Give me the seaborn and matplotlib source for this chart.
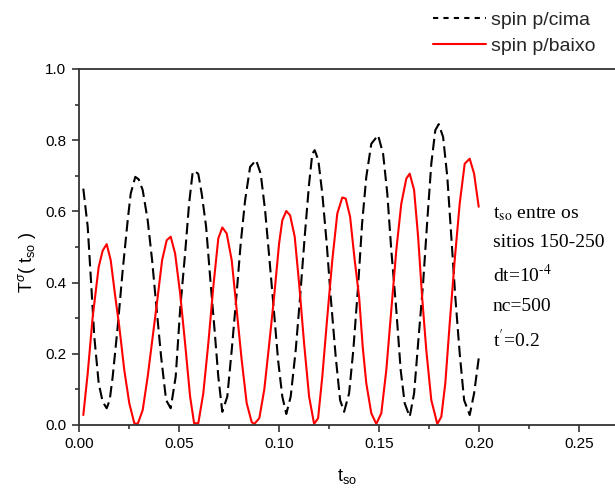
import numpy as np
import pandas as pd
import matplotlib
matplotlib.use("Agg")
import matplotlib.pyplot as plt
import seaborn as sns
from matplotlib.ticker import MultipleLocator, FormatStrFormatter
from matplotlib.lines import Line2D

# ---------------- data ----------------
t_up = [0.0023, 0.0045, 0.0062, 0.0078, 0.0100, 0.0120, 0.0140, 0.0155, 0.0170,
        0.0195, 0.0220, 0.0245, 0.0260, 0.0283, 0.0300, 0.0320, 0.0345, 0.0367,
        0.0387, 0.0412, 0.0437, 0.0460, 0.0485, 0.0507, 0.0532, 0.0552, 0.0570,
        0.0582, 0.0598, 0.0615, 0.0637, 0.0657, 0.0678, 0.0698, 0.0718, 0.0743,
        0.0765, 0.0787, 0.0810, 0.0832, 0.0857, 0.0887, 0.0910, 0.0932, 0.0953,
        0.0973, 0.0997, 0.1018, 0.1038, 0.1060, 0.1085, 0.1107, 0.1130, 0.1152,
        0.1168, 0.1180, 0.1198, 0.1218, 0.1240, 0.1260, 0.1285, 0.1307, 0.1327,
        0.1352, 0.1373, 0.1397, 0.1417, 0.1438, 0.1463, 0.1497, 0.1522, 0.1543,
        0.1563, 0.1588, 0.1610, 0.1630, 0.1655, 0.1677, 0.1697, 0.1722, 0.1743,
        0.1763, 0.1783, 0.1800, 0.1822, 0.1843, 0.1863, 0.1883, 0.1905, 0.1927,
        0.1955, 0.1977, 0.2000]
spin_up = [0.664, 0.557, 0.400, 0.248, 0.117, 0.065, 0.047, 0.070, 0.136,
           0.276, 0.435, 0.575, 0.650, 0.697, 0.690, 0.660, 0.575, 0.463,
           0.341, 0.192, 0.070, 0.047, 0.136, 0.323, 0.482, 0.622, 0.711,
           0.713, 0.705, 0.650, 0.557, 0.416, 0.276, 0.136, 0.037, 0.080,
           0.210, 0.351, 0.510, 0.631, 0.725, 0.744, 0.706, 0.603, 0.470,
           0.341, 0.182, 0.080, 0.031, 0.080, 0.210, 0.360, 0.529, 0.678,
           0.762, 0.772, 0.744, 0.650, 0.510, 0.360, 0.192, 0.070, 0.037,
           0.089, 0.210, 0.390, 0.566, 0.697, 0.790, 0.814, 0.762, 0.650,
           0.491, 0.323, 0.154, 0.061, 0.023, 0.089, 0.229, 0.398, 0.575,
           0.734, 0.828, 0.845, 0.809, 0.697, 0.529, 0.360, 0.201, 0.070,
           0.028, 0.089, 0.187]

t_down = [0.0023, 0.0045, 0.0070, 0.0100, 0.0120, 0.0140, 0.0160, 0.0183, 0.0203,
          0.0228, 0.0253, 0.0278, 0.0295, 0.0320, 0.0345, 0.0370, 0.0395, 0.0417,
          0.0440, 0.0460, 0.0482, 0.0507, 0.0532, 0.0557, 0.0577, 0.0598, 0.0623,
          0.0648, 0.0673, 0.0698, 0.0718, 0.0740, 0.0765, 0.0790, 0.0815, 0.0840,
          0.0865, 0.0878, 0.0903, 0.0928, 0.0953, 0.0977, 0.1002, 0.1018, 0.1038,
          0.1057, 0.1080, 0.1102, 0.1127, 0.1152, 0.1177, 0.1197, 0.1218, 0.1243,
          0.1268, 0.1293, 0.1318, 0.1335, 0.1357, 0.1380, 0.1402, 0.1420, 0.1438,
          0.1463, 0.1488, 0.1513, 0.1538, 0.1563, 0.1588, 0.1613, 0.1638, 0.1655,
          0.1677, 0.1697, 0.1717, 0.1738, 0.1763, 0.1793, 0.1813, 0.1833, 0.1855,
          0.1880, 0.1905, 0.1930, 0.1955, 0.1977, 0.2000]
spin_down = [0.028, 0.145, 0.304, 0.444, 0.490, 0.508, 0.463, 0.360, 0.276,
             0.154, 0.061, 0.005, 0.003, 0.042, 0.136, 0.248, 0.360, 0.463,
             0.519, 0.529, 0.482, 0.370, 0.229, 0.080, 0.005, 0.005, 0.089,
             0.229, 0.388, 0.524, 0.555, 0.538, 0.463, 0.323, 0.182, 0.061,
             0.008, 0.003, 0.019, 0.100, 0.230, 0.360, 0.510, 0.575, 0.601,
             0.589, 0.529, 0.398, 0.229, 0.080, 0.003, 0.019, 0.136, 0.304,
             0.463, 0.594, 0.639, 0.636, 0.585, 0.463, 0.360, 0.220, 0.117,
             0.033, 0.003, 0.033, 0.154, 0.323, 0.491, 0.622, 0.692, 0.706,
             0.660, 0.529, 0.360, 0.210, 0.070, 0.003, 0.023, 0.117, 0.285,
             0.463, 0.622, 0.734, 0.748, 0.706, 0.613]

series_labels = ["spin p/cima", "spin p/baixo"]
x_label = r"t$_{\mathrm{so}}$"
y_label = r"T$^{\sigma}$( t$_{\mathrm{so}}$ )"
annotation_lines = [r"t$_{\mathrm{so}}$ entre os", "sitios 150-250",
                    r"dt=10$^{\text{-}4}$", "nc=500", r"t$^{\prime}$=0.2"]

# ---------------- styling ----------------
sns.set_theme(style="ticks")
plt.rcParams["font.family"] = ["Liberation Sans", "DejaVu Sans"]
plt.rcParams.update({
    "mathtext.fontset": "custom",
    "mathtext.rm": "Liberation Sans",
    "mathtext.it": "Liberation Sans:italic",
    "mathtext.bf": "Liberation Sans:bold",
    "mathtext.sf": "Liberation Sans",
})

W, H = 615, 491
fig = plt.figure(figsize=(W / 100, H / 100), dpi=100)
ax_left, ax_right, ax_top, ax_bottom = 78.7, 615.0, 69.0, 425.0
ax = fig.add_axes([ax_left / W, 1 - ax_bottom / H,
                   (ax_right - ax_left) / W, (ax_bottom - ax_top) / H])

dash = (0, (5.5, 2.5))
df_up = pd.DataFrame({"t": t_up, "T": spin_up})
df_down = pd.DataFrame({"t": t_down, "T": spin_down})
sns.lineplot(data=df_up, x="t", y="T", ax=ax, color="black", linewidth=1.5,
             linestyle=dash, estimator=None, sort=False)
sns.lineplot(data=df_down, x="t", y="T", ax=ax, color="#ff0000", linewidth=1.5,
             estimator=None, sort=False)

ax.set_xlim(0, (ax_right - ax_left) / 2000.0)
ax.set_ylim(0, 1.0)
ax.xaxis.set_major_locator(MultipleLocator(0.05))
ax.xaxis.set_minor_locator(MultipleLocator(0.025))
ax.yaxis.set_major_locator(MultipleLocator(0.2))
ax.yaxis.set_minor_locator(MultipleLocator(0.1))
ax.xaxis.set_major_formatter(FormatStrFormatter("%.2f"))
ax.yaxis.set_major_formatter(FormatStrFormatter("%.1f"))
ax.tick_params(which="both", direction="out", color="#333333", width=1.2,
               labelsize=11, labelcolor="black")
ax.tick_params(which="major", length=5, pad=4)
ax.tick_params(which="minor", length=3)
for side in ["left", "bottom", "top"]:
    ax.spines[side].set_visible(True)
    ax.spines[side].set_color("#333333")
    ax.spines[side].set_linewidth(1.3)
ax.spines["right"].set_visible(False)

ax_w = ax_right - ax_left
ax_h = ax_bottom - ax_top
ax.set_xlabel(x_label, fontsize=13, color="black")
ax.set_ylabel(y_label, fontsize=13, color="black")
ax.xaxis.set_label_coords((347.0 - ax_left) / ax_w, -(467.0 - ax_bottom) / ax_h)
ax.yaxis.set_label_coords(-(ax_left - 38.0) / ax_w, (ax_bottom - 262.0) / ax_h)

handles = [Line2D([], [], color="black", lw=1.5, linestyle=(0, (2.5, 2.5))),
           Line2D([], [], color="#ff0000", lw=1.5)]
fig.legend(handles, series_labels, loc="upper left",
           bbox_to_anchor=(433.3 / W, 1 - 11 / H), bbox_transform=fig.transFigure,
           frameon=False, fontsize=14, handlelength=2.7, handletextpad=0.25,
           labelspacing=0.45, borderpad=0, borderaxespad=0)

baselines = [218.3, 246.7, 281.7, 310.7, 346.7]
for txt, yb in zip(annotation_lines, baselines):
    fig.text(492.7 / W, 1 - yb / H, txt, fontsize=14, family="Liberation Serif",
             math_fontfamily="stix", ha="left", va="baseline", color="black")

fig.savefig("out.png", dpi=100)
